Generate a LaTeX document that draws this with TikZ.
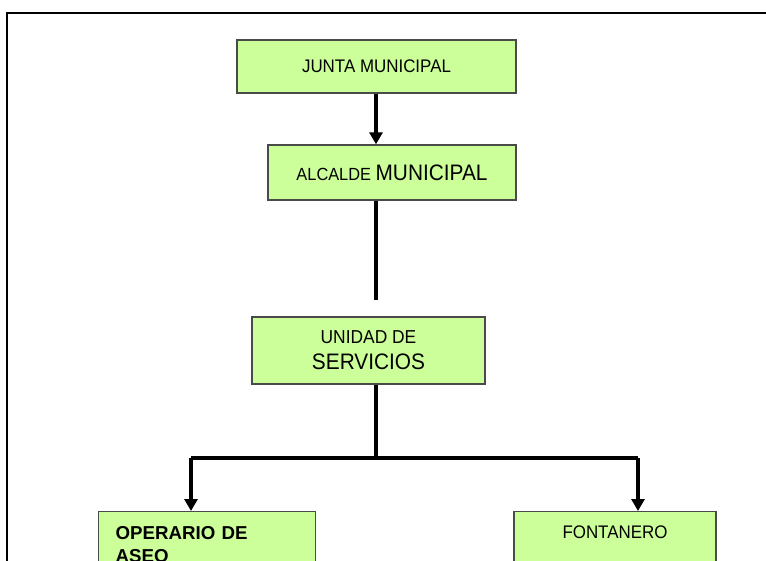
\documentclass[tikz,border=0pt]{standalone}
\usepackage{fontspec}
\setmainfont{Liberation Sans}
\newfontfamily\narrowsans[FakeStretch=0.93]{Liberation Sans}
\usepackage{tikz}
\usetikzlibrary{arrows.meta}
\definecolor{boxgreen}{HTML}{CCFF99}
\definecolor{boxedge}{HTML}{4A4A4A}

\begin{document}
\begin{tikzpicture}[
  x=1pt,y=-1pt,
  unit/.style={draw=boxedge,line width=1.4pt,fill=boxgreen,
    inner sep=0pt,align=center,font=\narrowsans},
  link/.style={line width=4pt},
  down/.style={link,-{Triangle[length=12pt,width=13pt]}},
  ]
  \useasboundingbox (0,0) rectangle (766,560);
  % Outer frame
  \draw[line width=2pt] (7,600) -- (7,13) -- (800,13);
  % Boxes
  \node[unit,minimum width=279pt,minimum height=53pt]
    (junta) at (376.5,66.5) {\fontsize{18.2}{21}\selectfont JUNTA MUNICIPAL};
  \node[unit,minimum width=248pt,minimum height=55pt]
    (alcalde) at (392,172.5)
    {\fontsize{17.6}{21}\selectfont ALCALDE \fontsize{22.4}{26}\selectfont MUNICIPAL};
  \node[unit,minimum width=233pt,minimum height=67pt]
    (unidad) at (368.5,350.5)
    {\fontsize{18.7}{22}\selectfont UNIDAD DE\\[9pt]
     \fontsize{22.4}{26}\selectfont SERVICIOS};
  \node[unit,anchor=north west,minimum width=217pt,text width=183pt,
    inner xsep=17pt,inner ysep=15pt,align=left,
    font=\fontsize{18.7}{23}\selectfont\bfseries]
    (operario) at (98,511) {OPERARIO DE\\ASEO\\~};
  \node[unit,anchor=north,minimum width=202pt,inner ysep=14pt,
    text height=13pt,text depth=60pt]
    (fontanero) at (615,511) {\fontsize{18.2}{21}\selectfont FONTANERO};
  % Connectors
  \coordinate (trunk) at (376,300);
  \coordinate (split) at (376,458);
  \coordinate (leftdrop) at (191,458);
  \coordinate (rightdrop) at (638,458);
  \draw[down] (junta.south -| trunk) -- (alcalde.north -| trunk);
  \draw[link] (alcalde.south -| trunk) -- (trunk);
  \draw[link] (unidad.south -| split) -- (split);
  \draw[link] (leftdrop) -- (rightdrop);
  \draw[down] (leftdrop) -- (operario.north -| leftdrop);
  \draw[down] (rightdrop) -- (fontanero.north -| rightdrop);
\end{tikzpicture}
\end{document}
